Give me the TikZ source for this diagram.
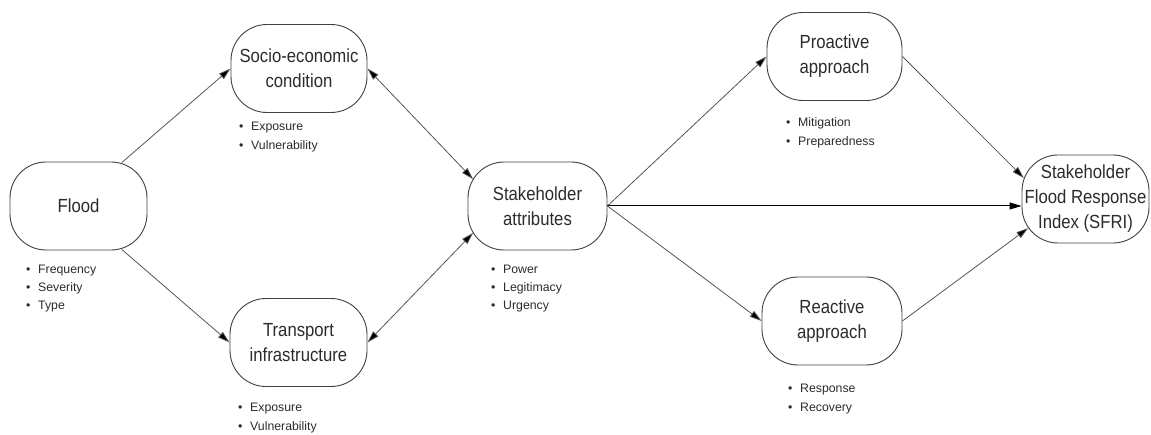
\documentclass[tikz,border=0pt]{standalone}
\usepackage{fontspec}
\setmainfont{Liberation Sans}
\newfontfamily\boxfont{Liberation Sans}[FakeStretch=0.88]
\usetikzlibrary{arrows.meta}
\definecolor{boxc}{HTML}{404040}
\definecolor{txtc}{HTML}{2B2B2B}
\definecolor{linec}{HTML}{555555}
\newcommand{\bl}{\makebox[12pt][l]{\textbullet}}
\tikzset{
  stadium/.style={draw=boxc, line width=0.9pt, rounded corners=36pt,
    minimum height=88pt, inner sep=0pt, align=center, text=txtc,
    font=\boxfont\fontsize{19}{25}\selectfont},
  bitem/.style={anchor=base west, inner sep=0pt, text=txtc,
    font=\fontsize{12.3}{15}\selectfont},
  arr/.style={draw=linec, line width=0.8pt, -{Triangle[length=12pt,width=7pt,fill=black]}},
  darr/.style={draw=linec, line width=0.8pt, {Triangle[length=12pt,width=7pt,fill=black]}-{Triangle[length=12pt,width=7pt,fill=black]}}
}
\begin{document}
\begin{tikzpicture}[x=1pt,y=-1pt]
\useasboundingbox (0,0) rectangle (1151,435);

% main nodes
\node[stadium, minimum width=137pt] (fl) at (78.5,206) {Flood};
\node[stadium, minimum width=136pt] (so) at (299,68.5) {Socio-economic\\condition};
\node[stadium, minimum width=137pt] (tr) at (298.5,342.5) {Transport\\infrastructure};
\node[stadium, minimum width=139pt] (st) at (537.5,206) {Stakeholder\\attributes};
\node[stadium, minimum width=135pt] (pr) at (834.5,56.5) {Proactive\\approach};
\node[stadium, minimum width=140pt] (re) at (832,321) {Reactive\\approach};
\node[stadium, minimum width=127pt] (sf) at (1085.5,199) {Stakeholder\\Flood Response\\Index (SFRI)};

% bullet lists
\node[bitem] (fl1) at (26,274) {\bl Frequency};
\node[bitem] (fl2) at (26,292) {\bl Severity};
\node[bitem] (fl3) at (26,310) {\bl Type};

\node[bitem] (so1) at (239,131) {\bl Exposure};
\node[bitem] (so2) at (239,150) {\bl Vulnerability};

\node[bitem] (tr1) at (238,411) {\bl Exposure};
\node[bitem] (tr2) at (238,430) {\bl Vulnerability};

\node[bitem] (st1) at (491,274) {\bl Power};
\node[bitem] (st2) at (491,292) {\bl Legitimacy};
\node[bitem] (st3) at (491,310) {\bl Urgency};

\node[bitem] (pr1) at (786,127) {\bl Mitigation};
\node[bitem] (pr2) at (786,146) {\bl Preparedness};

\node[bitem] (re1) at (788,392) {\bl Response};
\node[bitem] (re2) at (788,411) {\bl Recovery};

% connectors
\draw[arr, shorten <=-1.5pt] (fl.45) -- (so.west);
\draw[arr, shorten <=-1.5pt] (fl.-45) -- (tr.west);
\draw[darr, shorten >=-8pt] (so.east) -- (st.155);
\draw[darr, shorten >=-8pt] (tr.east) -- (st.205);
\draw[arr] (st.east) -- (pr.west);
\draw[arr, draw=black, line width=1pt] (st.east) -- (st.east -| sf.west);
\draw[arr] (st.east) -- (re.west);
\draw[arr, shorten >=-3.3pt] (pr.east) -- (sf.160);
\draw[arr, shorten >=-8.3pt] (re.east) -- (sf.208);
\end{tikzpicture}
\end{document}
